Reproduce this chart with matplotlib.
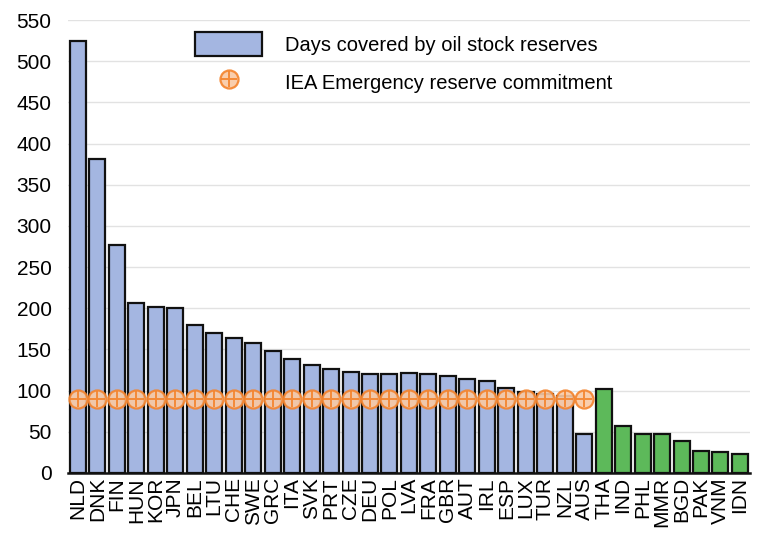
import matplotlib.pyplot as plt
import numpy as np

plt.rcParams['font.family'] = ['Liberation Sans', 'DejaVu Sans']

# datos
oecd = ['NLD', 'DNK', 'FIN', 'HUN', 'KOR', 'JPN', 'BEL', 'LTU', 'CHE', 'SWE',
        'GRC', 'ITA', 'SVK', 'PRT', 'CZE', 'DEU', 'POL', 'LVA', 'FRA', 'GBR',
        'AUT', 'IRL', 'ESP', 'LUX', 'TUR', 'NZL', 'AUS']
oecd_days = [525, 381, 277, 206, 201, 200, 179, 170, 164, 158,
             148, 138, 131, 126, 123, 120, 120, 121, 120, 118,
             114, 112, 103, 98, 96, 93, 47]
asia = ['THA', 'IND', 'PHL', 'MMR', 'BGD', 'PAK', 'VNM', 'IDN']
asia_days = [102, 57, 47, 47, 39, 27, 25, 23]
iea_commitment = 90

fig = plt.figure(figsize=(7.58, 5.41), dpi=100)
ax = fig.add_axes([0.09, 0.126, 0.899, 0.837])

x1 = np.arange(len(oecd))
x2 = np.arange(len(oecd), len(oecd) + len(asia))

bars = ax.bar(x1, oecd_days, width=0.82, color='#A4B6E1', edgecolor='#111111',
              linewidth=1.6, zorder=2)
ax.bar(x2, asia_days, width=0.82, color='#5DB95A', edgecolor='#111111',
       linewidth=1.6, zorder=2)

# marcador: circulo con cruz
naranja = '#F4832C'
ring, = ax.plot(x1, [iea_commitment] * len(oecd), linestyle='none', marker='o',
                markersize=13, markerfacecolor='#F9C9A4', markeredgecolor=naranja,
                markeredgewidth=1.6, alpha=0.9, zorder=3)
cross, = ax.plot(x1, [iea_commitment] * len(oecd), linestyle='none', marker='+',
                 markersize=12, color=naranja, markeredgewidth=1.4, alpha=0.9, zorder=4)

ax.set_xticks(np.concatenate([x1, x2]))
ax.set_xticklabels(oecd + asia, rotation=90, fontsize=15)
ax.set_xlim(-0.5, len(oecd) + len(asia) - 0.5)
ax.set_ylim(0, 550)
ax.set_yticks(range(0, 551, 50))
ax.tick_params(axis='y', labelsize=15, length=0, pad=12)
ax.tick_params(axis='x', length=0, pad=3)
ax.grid(axis='y', color='#E2E2E2', linewidth=1, zorder=0)
ax.set_axisbelow(True)

for s in ['top', 'right', 'left']:
    ax.spines[s].set_visible(False)
ax.spines['bottom'].set_linewidth(1.8)
ax.spines['bottom'].set_color('#111111')

ax.legend([bars, (ring, cross)],
          ['Days covered by oil stock reserves', 'IEA Emergency reserve commitment'],
          loc='upper left', bbox_to_anchor=(0.257, 0.941), bbox_transform=fig.transFigure,
          frameon=False, fontsize=14.5, handlelength=3.35, handleheight=1.5,
          handletextpad=1.15, labelspacing=0.65, borderpad=0, borderaxespad=0)

fig.savefig('out.png', dpi=100)
